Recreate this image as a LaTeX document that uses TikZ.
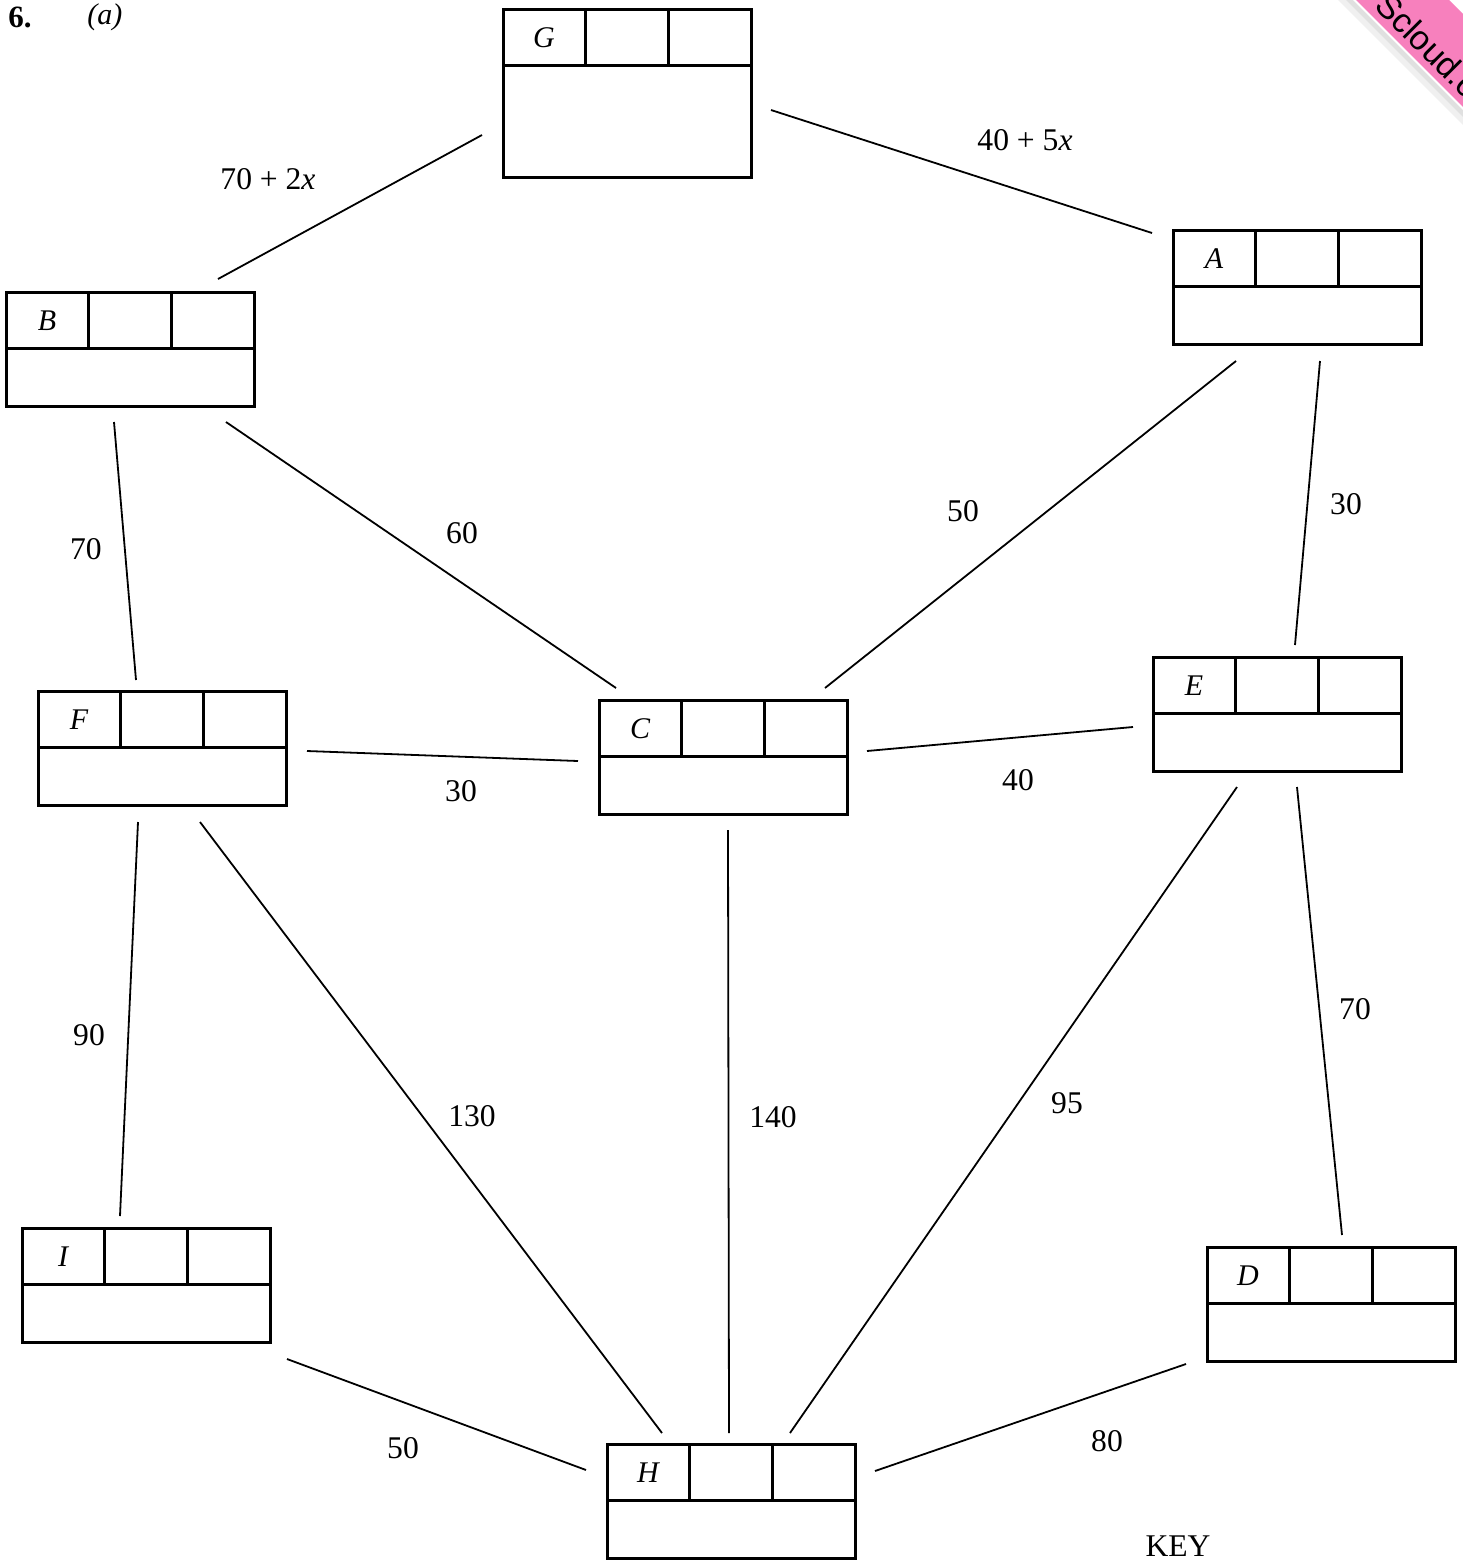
\documentclass[tikz,border=0pt]{standalone}
\usepackage{fontspec}
\setmainfont{Liberation Serif}
\newfontfamily\wmfont{Liberation Sans}
\definecolor{wmpink}{RGB}{247,128,189}
\tikzset{
  boxframe/.style={draw, line width=1.5pt, inner sep=0pt, outer sep=0pt, anchor=north west},
  boxline/.style={line width=1.5pt},
  edge/.style={line width=0.9pt},
  vlabel/.style={font=\fontsize{15pt}{17pt}\selectfont\itshape, inner sep=0pt},
  wlabel/.style={font=\fontsize{15.8pt}{18pt}\selectfont, inner sep=0pt},
}
% name, left, top, height(px), label
\newcommand{\ebox}[5]{%
  \node[boxframe, minimum width=124pt, minimum height=#4*0.5pt-0.5pt] (#1) at (#2+1,#3+1) {};
  \draw[boxline] ([yshift=-28pt]#1.north west) -- ([yshift=-28pt]#1.north east);
  \draw[boxline] ([xshift=41.3pt]#1.north west) -- ([xshift=41.3pt,yshift=-28pt]#1.north west);
  \draw[boxline] ([xshift=82.7pt]#1.north west) -- ([xshift=82.7pt,yshift=-28pt]#1.north west);
  \node[vlabel] (#1lbl) at ([xshift=20.5pt,yshift=-14.5pt]#1.north west) {#5};
}
\begin{document}
\begin{tikzpicture}[x=0.5pt,y=-0.5pt]
\useasboundingbox (0,0) rectangle (1463,1565);
\fill[white] (0,0) rectangle (1463,1565);

% watermark ribbon
\begin{scope}
  \clip (0,0) rectangle (1463,1565);
  \fill[black!6] (1338,0) -- (1353,0) -- (1463,110) -- (1463,125) -- cycle;
  \fill[black!12] (1346,0) -- (1353,0) -- (1463,110) -- (1463,117) -- cycle;
  \fill[white] (1353,0) -- (1452,0) -- (1463,11) -- (1463,110) -- cycle;
  \fill[wmpink] (1356,0) -- (1449,0) -- (1463,14) -- (1463,107) -- cycle;
  \node[font=\wmfont\fontsize{17pt}{19pt}\selectfont, rotate=-45, anchor=base west, inner sep=0pt] (wm) at (1373,7) {Scloud.com};
\end{scope}

% header
\node[font=\fontsize{15.5pt}{18pt}\selectfont\bfseries, inner sep=0pt, anchor=west] (qnum) at (8,17) {6.};
\node[font=\fontsize{15pt}{18pt}\selectfont\itshape, inner sep=0pt, anchor=west] (qpart) at (87,17) {(a)};

% boxes
\ebox{G}{502}{8}{169}{G}
\ebox{A}{1172}{229}{115}{A}
\ebox{B}{5}{291}{115}{B}
\ebox{F}{37}{690}{115}{F}
\ebox{C}{598}{699}{115}{C}
\ebox{E}{1152}{656}{115}{E}
\ebox{I}{21}{1227}{115}{I}
\ebox{D}{1206}{1246}{115}{D}
\ebox{H}{606}{1443}{115}{H}

% connector end points
\coordinate (gb1) at (482,135);  \coordinate (gb2) at (218,279);
\coordinate (ga1) at (771,110);  \coordinate (ga2) at (1152,233);
\coordinate (bf1) at (114,422);  \coordinate (bf2) at (136,680);
\coordinate (bc1) at (226,422);  \coordinate (bc2) at (616,688);
\coordinate (ac1) at (1236,361); \coordinate (ac2) at (825,688);
\coordinate (ae1) at (1320,361); \coordinate (ae2) at (1295,645);
\coordinate (fc1) at (307,751);  \coordinate (fc2) at (578,761);
\coordinate (ce1) at (867,751);  \coordinate (ce2) at (1133,727);
\coordinate (fi1) at (138,822);  \coordinate (fi2) at (120,1216);
\coordinate (fh1) at (200,822);  \coordinate (fh2) at (662,1433);
\coordinate (ch1) at (728,830);  \coordinate (ch2) at (729,1433);
\coordinate (eh1) at (1237,787); \coordinate (eh2) at (790,1433);
\coordinate (ed1) at (1297,787); \coordinate (ed2) at (1342,1235);
\coordinate (ih1) at (287,1359); \coordinate (ih2) at (586,1470);
\coordinate (dh1) at (1186,1364);\coordinate (dh2) at (875,1471);

\draw[edge] (gb1) -- (gb2);
\draw[edge] (ga1) -- (ga2);
\draw[edge] (bf1) -- (bf2);
\draw[edge] (bc1) -- (bc2);
\draw[edge] (ac1) -- (ac2);
\draw[edge] (ae1) -- (ae2);
\draw[edge] (fc1) -- (fc2);
\draw[edge] (ce1) -- (ce2);
\draw[edge] (fi1) -- (fi2);
\draw[edge] (fh1) -- (fh2);
\draw[edge] (ch1) -- (ch2);
\draw[edge] (eh1) -- (eh2);
\draw[edge] (ed1) -- (ed2);
\draw[edge] (ih1) -- (ih2);
\draw[edge] (dh1) -- (dh2);

% weights
\node[wlabel] (wgb) at (268,179) {70 + 2\textit{x}};
\node[wlabel] (wga) at (1025,140) {40 + 5\textit{x}};
\node[wlabel] (wbf) at (86,549) {70};
\node[wlabel] (wbc) at (462,533) {60};
\node[wlabel] (wac) at (963,511) {50};
\node[wlabel] (wae) at (1346,504) {30};
\node[wlabel] (wfc) at (461,791) {30};
\node[wlabel] (wce) at (1018,780) {40};
\node[wlabel] (wfi) at (89,1035) {90};
\node[wlabel] (wfh) at (472,1116) {130};
\node[wlabel] (wch) at (773,1117) {140};
\node[wlabel] (weh) at (1067,1103) {95};
\node[wlabel] (wed) at (1355,1009) {70};
\node[wlabel] (wih) at (403,1448) {50};
\node[wlabel] (wdh) at (1107,1441) {80};

\node[wlabel] (key) at (1178,1546) {KEY};
\end{tikzpicture}
\end{document}
